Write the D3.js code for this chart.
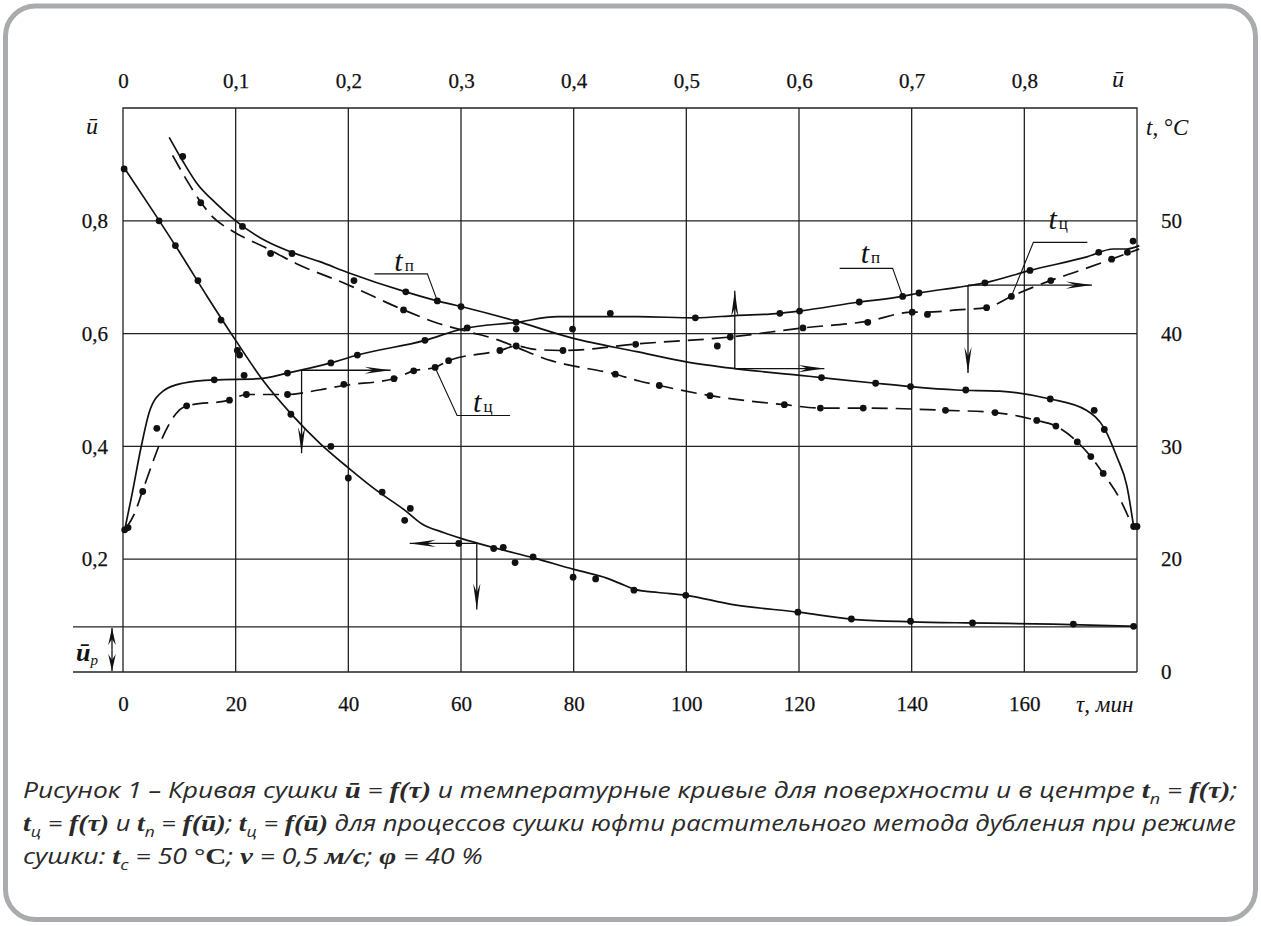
<!DOCTYPE html>
<html><head><meta charset="utf-8">
<script src="https://cdn.jsdelivr.net/npm/d3@7"></script>
<style>body{margin:0;background:#fff}</style>
</head><body>
<svg id="c" width="1261" height="926"></svg>
<script>
// ---------- DATA ----------
const tauTicks = [0,20,40,60,80,100,120,140,160];
const uTopTicks = [0,0.1,0.2,0.3,0.4,0.5,0.6,0.7,0.8];
const uLeftTicks = [0.2,0.4,0.6,0.8];
const tRightTicks = [0,20,30,40,50];
const uEquilibrium = 0.08;

// moisture ū = f(τ)  [τ, ū]
const moistureCurve = [[0,0.897],[5,0.822],[10,0.745],[15,0.665],[20,0.588],[25,0.515],[30,0.456],[35,0.405],[40,0.362],[45,0.322],[50,0.287],[53,0.263],[57,0.247],[60,0.237],[66,0.22],[73,0.202],[80,0.182],[86,0.166],[88,0.158],[91,0.146],[95,0.141],[100,0.136],[108,0.12],[120,0.106],[130,0.093],[140,0.089],[150,0.087],[165,0.085],[180,0.081]];
const moistureDots = [[0.2,0.892],[6.4,0.80],[9.3,0.756],[13.3,0.694],[17.4,0.624],[20.3,0.57],[20.7,0.562],[29.8,0.457],[36.9,0.40],[40,0.344],[46,0.319],[51,0.29],[50,0.269],[59.6,0.228],[65.8,0.219],[67.5,0.221],[69.6,0.194],[72.8,0.204],[79.9,0.168],[83.9,0.165],[90.7,0.145],[99.9,0.136],[119.8,0.106],[129.3,0.094],[139.8,0.09],[150.8,0.087],[168.7,0.085],[179.4,0.081]];

// surface temperature t_п = f(τ)  [τ, °C]
const tSurfTauCurve = [[0.3,22.6],[1.5,25.5],[3.2,29.9],[4.7,33.1],[7.1,34.9],[10.6,35.6],[16.2,35.9],[24.2,36],[29.2,36.5],[36.9,37.4],[41.6,38.1],[53.6,39.4],[60.1,40.4],[69.8,41.0],[77.2,41.5],[91.3,41.5],[101.6,41.4],[108.6,41.6],[116.6,41.8],[120.1,42],[130.7,42.8],[138.4,43.3],[141.3,43.6],[148.1,44.1],[153,44.5],[161,45.6],[171.1,46.8],[175.8,47.5],[178.2,47.5],[180.4,47.8]];
const tSurfTauDots = [[0.3,22.6],[16.2,35.9],[21.5,36.3],[29.2,36.5],[36.9,37.4],[41.6,38.1],[53.6,39.4],[61.1,40.5],[69.8,41.0],[69.8,40.4],[79.8,40.4],[86.5,41.8],[101.6,41.4],[116.6,41.8],[120.1,42],[130.7,42.8],[138.4,43.3],[141.3,43.6],[153,44.5],[161,45.6],[173.2,47.2],[179.3,48.2]];

// centre temperature t_ц = f(τ)
const tCentTauCurve = [[0.6,22.8],[2,24],[3.5,26.1],[5,28.2],[6.5,30.2],[8,31.8],[9.4,32.9],[11.3,33.6],[18.9,34.1],[21.9,34.6],[29.2,34.6],[34.8,35],[39.2,35.4],[48.1,36],[51.6,36.7],[55.4,37],[57.8,37.6],[66.9,38.5],[69.8,38.9],[73.1,38.6],[78.1,38.5],[91.6,39.1],[107.8,39.7],[120.7,40.5],[132.2,41.1],[140.1,41.9],[142.8,41.9],[148,42.1],[153.3,42.3],[157.7,43.3],[164.6,44.7],[169.9,45.6],[175.5,46.6],[178.2,47.1],[180.4,47.5]];
const tCentTauDots = [[0.9,22.8],[3.5,26],[6,31.6],[11.3,33.6],[18.9,34.1],[21.9,34.6],[29.2,34.6],[39.2,35.5],[48.1,36],[51.6,36.7],[55.4,37],[57.8,37.6],[66.9,38.5],[69.8,38.9],[78.1,38.5],[91,39.05],[105.5,38.9],[107.8,39.7],[120.7,40.5],[132.2,41],[140.1,41.9],[142.8,41.7],[153.3,42.3],[157.7,43.3],[164.7,44.7],[175.5,46.6],[178.3,47.2]];

// surface temperature t_п = f(ū)  [ū, °C]
const tSurfUCurve = [[0.041,57.4],[0.053,55.3],[0.065,53.4],[0.083,51.5],[0.1,50],[0.127,48.2],[0.15,47.2],[0.174,46.4],[0.2,45.4],[0.251,43.7],[0.279,42.9],[0.3,42.4],[0.349,41.1],[0.399,39.6],[0.456,38.4],[0.5,37.5],[0.543,36.9],[0.601,36.3],[0.62,36.1],[0.668,35.6],[0.699,35.3],[0.74,35],[0.778,34.9],[0.823,34.2],[0.855,33.2],[0.871,31.6],[0.882,29.1],[0.891,26.5],[0.897,22.9]];
const tSurfUDots = [[0.053,55.7],[0.106,49.5],[0.15,47.1],[0.205,44.7],[0.251,43.7],[0.279,42.9],[0.3,42.4],[0.62,36.1],[0.668,35.6],[0.699,35.3],[0.748,35],[0.823,34.2],[0.862,33.2],[0.871,31.5],[0.897,22.9]];

// centre temperature t_ц = f(ū)
const tCentUCurve = [[0.044,55.8],[0.056,53.7],[0.068,51.8],[0.08,50.3],[0.097,49.1],[0.127,47.6],[0.154,46.2],[0.198,44.4],[0.249,42.1],[0.28,40.9],[0.305,40.2],[0.334,39.4],[0.349,38.8],[0.38,37.6],[0.392,37.3],[0.437,36.4],[0.458,35.8],[0.476,35.4],[0.521,34.5],[0.587,33.7],[0.619,33.4],[0.657,33.4],[0.73,33.2],[0.774,33],[0.811,32.3],[0.828,31.8],[0.847,30.4],[0.859,29.1],[0.87,27.6],[0.885,25.3],[0.896,22.9]];
const tCentUDots = [[0.069,51.6],[0.131,47.1],[0.249,42.1],[0.437,36.4],[0.476,35.4],[0.521,34.5],[0.587,33.7],[0.619,33.4],[0.657,33.4],[0.73,33.2],[0.774,33],[0.811,32.3],[0.828,31.8],[0.847,30.4],[0.859,29.1],[0.87,27.6],[0.9,22.9]];

// ---------- SETUP ----------
const svg = d3.select('#c');
const INK = '#111';
const SERIF = '"Liberation Serif","Times New Roman",serif';

svg.append('rect').attr('x',5.5).attr('y',6).attr('width',1250).attr('height',913.5)
  .attr('rx',30).attr('fill','#fff').attr('stroke','#a9abae').attr('stroke-width',5);

const L = 123, R = 1137, T = 108, B = 672;
const x  = d3.scaleLinear().domain([0,180]).range([L,R]);
const xu = d3.scaleLinear().domain([0,0.9]).range([L,R]);
const yu = d3.scaleLinear().domain([0,1]).range([B,T]);
const yt = d3.scaleLinear().domain([0,20,60]).range([B,yu(0.2),T]);

// grid
const grid = svg.append('g').attr('stroke','#222').attr('stroke-width',1.3).attr('fill','none');
grid.selectAll('.v').data(tauTicks.filter(d=>d>0)).join('line')
  .attr('x1',d=>x(d)).attr('x2',d=>x(d)).attr('y1',T).attr('y2',B);
grid.selectAll('.h').data(uLeftTicks).join('line')
  .attr('x1',L).attr('x2',R).attr('y1',d=>yu(d)).attr('y2',d=>yu(d));
grid.append('line').attr('x1',73).attr('x2',R).attr('y1',yu(uEquilibrium)).attr('y2',yu(uEquilibrium));
grid.append('line').attr('x1',73).attr('x2',R).attr('y1',B).attr('y2',B);
grid.append('path').attr('d',`M${L},${B}V${T}H${R}V${B}`);

// axes
const AX = 21;
const fmt = d => d===0 ? '0' : String(d).replace('.',',');
function styleAxis(g){ g.select('.domain').remove(); g.attr('font-family',SERIF).attr('font-size',AX);
  g.selectAll('text').style('font-family',SERIF).style('font-size',AX+'px').attr('fill',INK)
    .attr('stroke',INK).attr('stroke-width',0.25); }
svg.append('g').attr('transform',`translate(0,${T})`)
  .call(d3.axisTop(xu).tickValues(uTopTicks).tickFormat(fmt).tickSize(0).tickPadding(20)).call(styleAxis);
svg.append('g').attr('transform',`translate(0,${B})`)
  .call(d3.axisBottom(x).tickValues(tauTicks).tickFormat(fmt).tickSize(0).tickPadding(24)).call(styleAxis);
svg.append('g').attr('transform',`translate(${L},0)`)
  .call(d3.axisLeft(yu).tickValues(uLeftTicks).tickFormat(fmt).tickSize(0).tickPadding(15)).call(styleAxis);
svg.append('g').attr('transform',`translate(${R},0)`)
  .call(d3.axisRight(yt).tickValues(tRightTicks).tickFormat(fmt).tickSize(0).tickPadding(24)).call(styleAxis);

// axis titles
function txt(xx,yy,s,opts={}){
  const t = svg.append('text').attr('x',xx).attr('y',yy)
    .style('font-family',SERIF).style('font-size',(opts.size||AX)+'px').attr('fill',INK)
    .style('font-style',opts.italic?'italic':'normal')
    .attr('text-anchor',opts.anchor||'start').style('font-weight',opts.bold?'bold':'normal');
  t.text(s); return t;
}
txt(1118,87,'ū',{italic:true,anchor:'middle',size:24});
txt(92,134,'ū',{italic:true,anchor:'middle',size:24});
const tc = svg.append('text').attr('x',1146).attr('y',135).style('font-family',SERIF).style('font-size','23px').attr('fill',INK);
tc.append('tspan').style('font-style','italic').text('t');
tc.append('tspan').text(', °');
tc.append('tspan').style('font-style','italic').text('C');
txt(1076,712,'τ, мин',{italic:true,size:23});
// ū_p label
const up = svg.append('text').attr('x',76).attr('y',661).style('font-family',SERIF).style('font-size','26px').attr('fill',INK).style('font-style','italic').style('font-weight','bold');
up.append('tspan').text('ū');
up.append('tspan').style('font-size','15px').style('font-weight','normal').attr('dy',4).text('p');

// arrows
function arrow(x1,y1,x2,y2,len=26,hw=3.6){
  svg.append('line').attr('x1',x1).attr('y1',y1).attr('x2',x2).attr('y2',y2).attr('stroke',INK).attr('stroke-width',1.3);
  const a = Math.atan2(y2-y1,x2-x1), c=Math.cos(a), s=Math.sin(a);
  const bx=x2-len*c, by=y2-len*s;
  svg.append('path').attr('fill',INK)
    .attr('d',`M${x2},${y2}L${bx-hw*s},${by+hw*c}L${bx+0.35*len*c},${by+0.35*len*s}L${bx+hw*s},${by-hw*c}Z`);
}
// ū_p double arrow
arrow(112, (yu(uEquilibrium)+B)/2, 112, yu(uEquilibrium)+1, 17, 3.8);
arrow(112, (yu(uEquilibrium)+B)/2, 112, B-1, 17, 3.8);

// reading guides
arrow(x(31.7), yt(36.75), x(47.5), yt(36.75));
arrow(x(31.7), yt(36.75), x(31.7), yu(0.388));
arrow(x(62.8), yu(0.228), x(50.9), yu(0.228));
arrow(x(62.8), yu(0.228), x(62.8), yu(0.111));
arrow(xu(0.543), yt(36.9), xu(0.543), yt(43.8));
arrow(xu(0.543), yt(36.9), x(124.5), yt(36.9));
arrow(x(150), yt(44.3), x(150), yt(36.5));
arrow(x(150), yt(44.3), x(172), yt(44.3));

// curves
const lineTau = (yf) => d3.line().x(d=>x(d[0])).y(d=>yf(d[1])).curve(d3.curveMonotoneX);
const lineU = d3.line().x(d=>xu(d[0])).y(d=>yt(d[1])).curve(d3.curveMonotoneX);
const curves = svg.append('g').attr('fill','none').attr('stroke',INK).attr('stroke-width',1.7);
curves.append('path').attr('d',lineTau(yu)(moistureCurve));
curves.append('path').attr('d',lineTau(yt)(tSurfTauCurve));
curves.append('path').attr('d',lineTau(yt)(tCentTauCurve)).attr('stroke-dasharray','16,8');
curves.append('path').attr('d',lineU(tSurfUCurve));
curves.append('path').attr('d',lineU(tCentUCurve)).attr('stroke-dasharray','16,8');

const dots = svg.append('g').attr('fill',INK);
function drawDots(data,fx,fy){ dots.selectAll(null).data(data).join('circle').attr('cx',d=>fx(d[0])).attr('cy',d=>fy(d[1])).attr('r',3.4); }
drawDots(moistureDots,x,yu);
drawDots(tSurfTauDots,x,yt);
drawDots(tCentTauDots,x,yt);
drawDots(tSurfUDots,xu,yt);
drawDots(tCentUDots,xu,yt);

// curve labels with leaders
function label(ax,ay,kx,ky,hx,sub,tx,ty){
  svg.append('path').attr('fill','none').attr('stroke',INK).attr('stroke-width',1.1)
    .attr('d',`M${ax},${ay}L${ax+kx},${ay+ky}L${ax+hx},${ay+ky}`);
  const t = svg.append('text').attr('x',ax+tx).attr('y',ay+ty).style('font-family',SERIF).attr('fill',INK);
  t.append('tspan').style('font-style','italic').style('font-size','30px').text('t');
  t.append('tspan').style('font-size','17px').attr('dx',2).text(sub);
}
label(xu(0.279), yt(42.9), -10,-27, -63, 'п', -43, -30);
label(x(55.4), yt(37), 22, 48, 75, 'ц', 38, 45);
label(x(138.4), yt(43.3), -10,-28, -63, 'п', -42, -33);
label(x(157.7), yt(43.3), 22,-54, 76, 'ц', 37, -67);

// caption
const CAP = '"Open Sans","Noto Sans",sans-serif';
function caption(parts){
  const t = svg.append('text').attr('x',0).attr('y',0).style('font-family',CAP).style('font-style','italic')
    .style('font-size','22px').attr('fill','#2a2a2a');
  let sub=false;
  parts.forEach(([k,s])=>{
    const sp = t.append('tspan').text(s);
    if(k==='b'||k==='bu'){ sp.style('font-family',SERIF).style('font-weight','bold').style('font-size','24px').style('font-style',k==='bu'?'normal':'italic'); }
    if(k==='sub'){ sp.style('font-size','15px').attr('dy',6); sub=true; }
    else if(sub){ sp.attr('dy',-6); sub=false; }
  });
  return t;
}
const cap1 = caption([['n','Рисунок 1 – Кривая сушки '],['b','ū'],['n',' = '],['b','f(τ)'],['n',' и температурные кривые для поверхности и в центре '],['b','t'],['sub','п'],['n',' = '],['b','f(τ)'],['n',';']]);
const cap2 = caption([['b','t'],['sub','ц'],['n',' = '],['b','f(τ)'],['n',' и '],['b','t'],['sub','п'],['n',' = '],['b','f(ū)'],['n','; '],['b','t'],['sub','ц'],['n',' = '],['b','f(ū)'],['n',' для процессов сушки юфти растительного метода дубления при режиме']]);
const cap3 = caption([['n','сушки: '],['b','t'],['sub','с'],['n',' = 50 °'],['bu','С'],['n','; '],['b','v'],['n',' = 0,5 '],['b','м/с'],['n','; '],['b','φ'],['n',' = 40 %']]);
const k1 = 1215/cap1.node().getComputedTextLength();
const k2 = 1214/cap2.node().getComputedTextLength();
const k3 = 460/cap3.node().getComputedTextLength();
cap1.attr('transform',`translate(23,798) scale(${k1},1)`);
cap2.attr('transform',`translate(23,831) scale(${k2},1)`);
cap3.attr('transform',`translate(23,864) scale(${k3},1)`);
</script>
</body></html>
